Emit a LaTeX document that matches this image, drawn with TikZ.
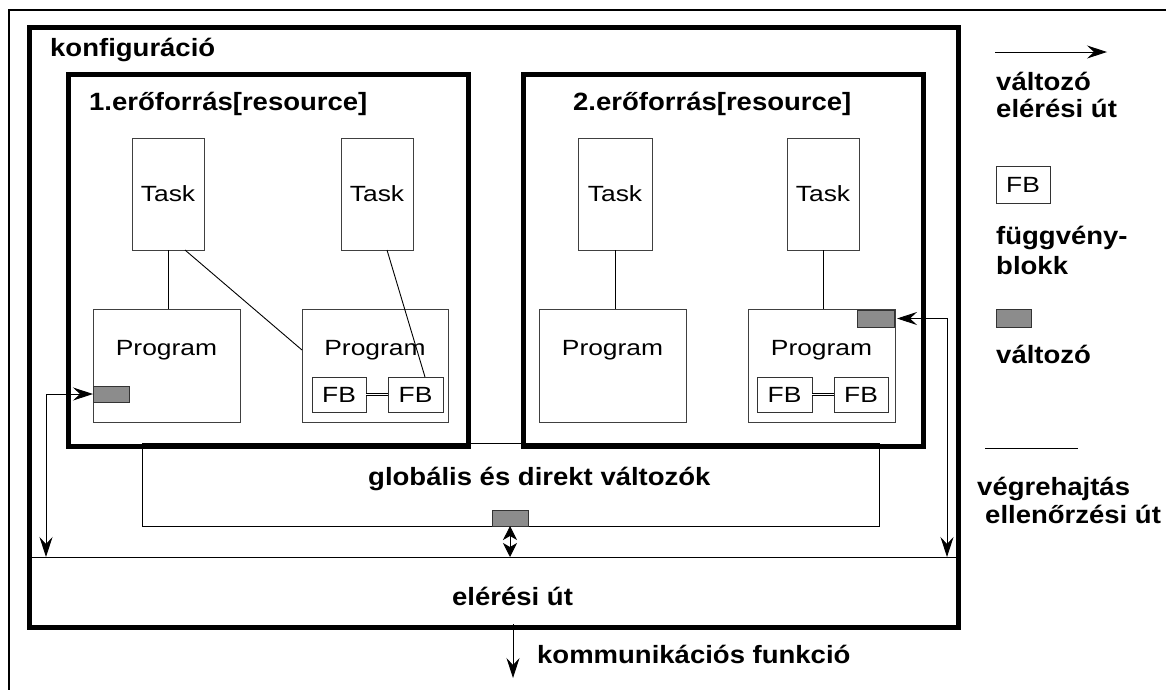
\documentclass[tikz,border=0pt]{standalone}
\usepackage{fontspec}
\setmainfont{Liberation Sans}
\newfontfamily\regf[FakeStretch=1.2]{Liberation Sans}
\newfontfamily\boldf[FakeStretch=1.1]{Liberation Sans}
\newcommand\tfnt{\regf\fontsize{22}{26}\selectfont}
\newcommand\bfnt{\boldf\bfseries\fontsize{25}{30}\selectfont}
\usetikzlibrary{arrows.meta}
\tikzset{
  thickbox/.style={draw, line width=5pt, inner sep=0pt, outer sep=0pt},
  thinbox/.style={draw, line width=1pt, inner sep=0pt, outer sep=0pt},
  taskbox/.style={draw=black!75, line width=0.9pt, minimum width=72pt, minimum height=112pt, inner sep=0pt, outer sep=0pt, font=\tfnt},
  progbox/.style={draw=black!75, line width=0.9pt, minimum width=147pt, minimum height=113pt, inner sep=0pt, outer sep=0pt},
  fbbox/.style={draw=black!80, line width=0.9pt, minimum width=55pt, minimum height=35pt, inner sep=0pt, outer sep=0pt, font=\tfnt},
  varbox/.style={draw=black!80, fill=black!45, line width=0.8pt, minimum width=36pt, minimum height=16pt, inner sep=0pt, outer sep=0pt},
  lbl/.style={font=\tfnt, inner sep=0pt, anchor=base},
  bt/.style={font=\bfnt, inner sep=0pt, anchor=base west},
  conn/.style={line width=0.9pt},
  tip/.style={-{Stealth[length=20pt, width=13pt, inset=7pt]}},
  dtip/.style={{Stealth[length=20pt, width=13pt, inset=7pt]}-{Stealth[length=20pt, width=13pt, inset=7pt]}},
  stip/.style={{Stealth[length=14pt, width=14pt, inset=4pt]}-{Stealth[length=14pt, width=14pt, inset=4pt]}},
  fbline/.style={double, double distance=1.6pt, line width=1.1pt},
}
\begin{document}
\begin{tikzpicture}[x=1pt, y=-1pt]
\useasboundingbox (0,0) rectangle (1166,689);
\clip (0,0) rectangle (1166,689);
\fill[white] (0,0) rectangle (1166,689);
% outer thin frame
\draw[line width=1.6pt] (9,720) |- (1200,10);

% global variables box and access path
\node[thinbox, minimum width=737pt, minimum height=83pt] (glob) at (510.5,484.5) {};
\node[thinbox, minimum width=929pt, minimum height=70pt] (eu) at (493.5,592) {};
% configuration and resources
\node[thickbox, minimum width=929pt, minimum height=600pt] (konf) at (493.5,327) {};
\node[thickbox, minimum width=400pt, minimum height=372pt] (r1) at (268,260) {};
\node[thickbox, minimum width=400pt, minimum height=372pt] (r2) at (723,260) {};

% titles
\node[bt] (lk) at (50,56) {konfiguráció};
\node[bt] (lr1) at (89,110) {1.erőforrás[resource]};
\node[bt] (lr2) at (573,110) {2.erőforrás[resource]};
\node[bt] (lg) at (368,485) {globális és direkt változók};
\node[bt] (le) at (452,605) {elérési út};
\node[bt] (lkf) at (537,663) {kommunikációs funkció};

% tasks
\node[taskbox] (t1) at (168,194) {Task};
\node[taskbox] (t2) at (377,194) {Task};
\node[taskbox, minimum width=74pt] (t3) at (615,194) {Task};
\node[taskbox] (t4) at (823,194) {Task};

% programs
\node[progbox] (p1) at (166.5,365.5) {};
\node[progbox, minimum width=146pt] (p2) at (375,365.5) {};
\node[progbox] (p3) at (612.5,365.5) {};
\node[progbox] (p4) at (821.5,365.5) {};
\node[lbl] (lp1) at (166.5,355) {Program};
\node[lbl] (lp2) at (375,355) {Program};
\node[lbl] (lp3) at (612.5,355) {Program};
\node[lbl] (lp4) at (821.5,355) {Program};

% function blocks
\node[fbbox, minimum width=54pt] (fb1) at (339,394.5) {FB};
\node[fbbox] (fb2) at (415.5,394.5) {FB};
\node[fbbox] (fb3) at (784.5,394.5) {FB};
\node[fbbox, minimum width=54pt] (fb4) at (861,394.5) {FB};
\draw[fbline] (fb1.east) -- (fb2.west);
\draw[fbline] (fb3.east) -- (fb4.west);

% variables
\node[varbox] (v1) at (111,394) {};
\node[varbox, minimum width=37pt, minimum height=17pt] (v2) at (875.5,318.5) {};
\node[varbox] (vg) at (510,518) {};

% execution control connectors
\draw[conn] (t1.south) -- (t1.south |- p1.north);
\draw[conn] ([xshift=17pt]t1.south) -- ([yshift=15.5pt]p2.west);
\draw[conn] ([xshift=10pt]t2.south) -- ([xshift=9.5pt]fb2.north);
\draw[conn] (t3.south) -- (t3.south |- p3.north);
\draw[conn] (t4.south) -- (t4.south |- p4.north);

% variable access paths
\coordinate (la) at (46,557);
\coordinate (ra) at (947,557);
\draw[conn, dtip] (v1.west) -| (la);
\draw[conn, dtip] ([xshift=3pt]v2.east) -| (ra);
\draw[conn, stip] (vg.south) -- (vg.south |- eu.north);
\coordinate (kc) at (513,678);
\draw[conn, tip] ([yshift=3pt]konf.south -| kc) -- (kc);

% legend
\coordinate (lgA) at (995,52);
\coordinate (lgB) at (1107,52);
\draw[conn, tip] (lgA) -- (lgB);
\node[bt] (lv1) at (996,90) {változó};
\node[bt] (lv2) at (996,117) {elérési út};
\node[fbbox, minimum width=54pt, minimum height=37pt] (lfb) at (1023,184.5) {FB};
\node[bt] (lf1) at (996,244) {függvény-};
\node[bt] (lf2) at (996,274) {blokk};
\node[varbox, minimum width=35pt, minimum height=18pt] (lvar) at (1013.5,318) {};
\node[bt] (lv3) at (996,363) {változó};
\coordinate (lnA) at (985,448);
\coordinate (lnB) at (1078,448);
\draw[conn] (lnA) -- (lnB);
\node[bt] (lx1) at (977,495) {végrehajtás};
\node[bt] (lx2) at (985,523) {ellenőrzési út};
\end{tikzpicture}
\end{document}
